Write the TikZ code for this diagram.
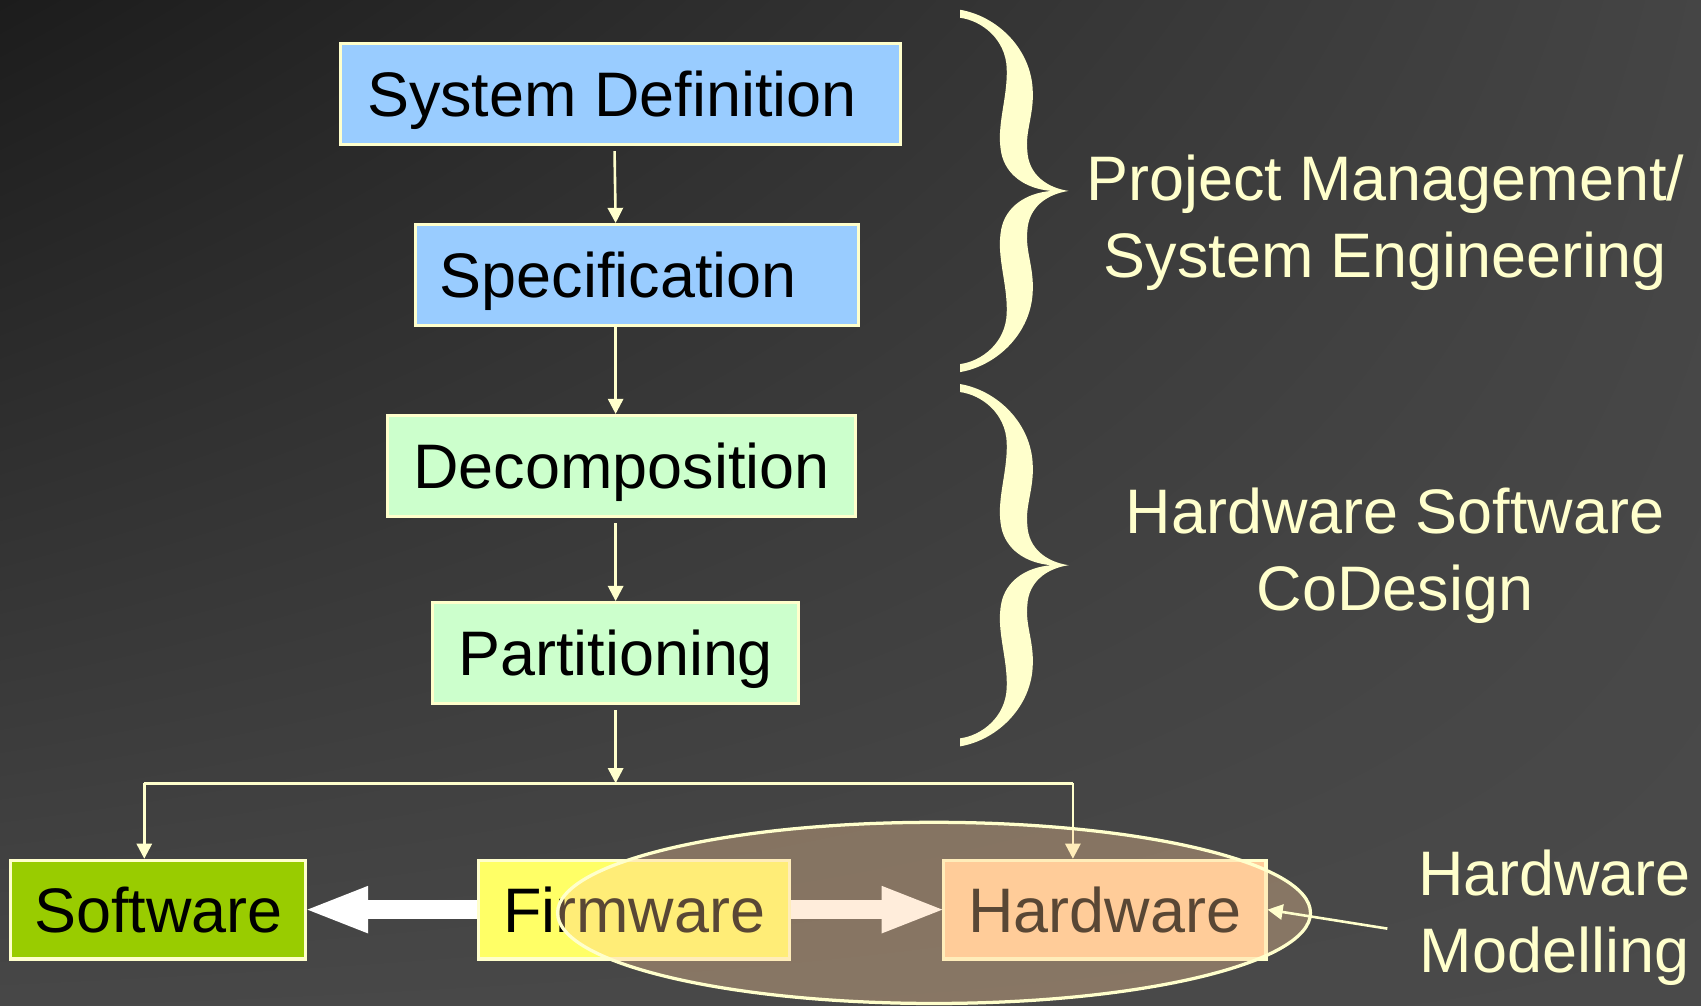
\documentclass[tikz,border=0pt]{standalone}
\usepackage{fontspec}
\setmainfont{Liberation Sans}
\usetikzlibrary{shapes.geometric,arrows.meta,calc,positioning,shadings}
\definecolor{chalk}{HTML}{FFFFCC}
\definecolor{skyblue}{HTML}{99CCFF}
\definecolor{mint}{HTML}{CCFFCC}
\definecolor{swgreen}{HTML}{99CC00}
\definecolor{fwyellow}{HTML}{FFFF66}
\definecolor{peach}{HTML}{FFCC99}
% curly brace outline, 100 wide and 334 high, tip to the right
\newcommand{\bracepath}{(0,-2) .. controls (35,4) and (66,35) .. (67,73) .. controls (68,95) and (60,110) .. (62,128) .. controls (63,150) and (80,162) .. (100,165) .. controls (80,168) and (63,180) .. (62,202) .. controls (60,220) and (68,235) .. (67,257) .. controls (66,295) and (35,326) .. (0,332) -- (0,324.6) .. controls (20,322) and (42,305) .. (43,278) .. controls (44,250) and (33,225) .. (38,200) .. controls (42,180) and (60,167) .. (84,165) .. controls (60,163) and (42,150) .. (38,130) .. controls (33,105) and (44,80) .. (43,52) .. controls (42,25) and (20,8) .. (0,5.4) -- cycle}

\begin{document}
\begin{tikzpicture}[x=0.5pt,y=-0.5pt,
  every node/.style={font=\fontsize{29pt}{35.5pt}\selectfont},
  box/.style={draw=chalk,line width=1.4pt,inner sep=0pt,text=black,text depth=0pt,minimum height=46.5pt},
  lbl/.style={text=chalk,align=center,inner sep=0pt},
  link/.style={draw=chalk,line width=1.2pt},
  conn/.style={link,-{Triangle[length=7pt,width=7pt]}},
  fat/.style={draw=white,line width=9pt,-{Triangle[length=28pt,width=22pt,line width=0pt]}}]
\useasboundingbox (0,0) rectangle (1568,927);
\shade[upper left=black!89,upper right=black!73,lower left=black!72,lower right=black!71] (0,0) rectangle (1568,927);
\node [box,fill=skyblue,minimum width=258pt] (sysdef) at (572,86.5) {System Definition\hspace*{8pt}};
\node [box,fill=skyblue,minimum width=204pt] (spec) at (587,253.5) {Specification\hspace*{17pt}};
\node [box,fill=mint,minimum width=216pt] (decomp) at (573,429.5) {Decomposition};
\node [box,fill=mint,minimum width=168.5pt] (part) at (567.5,602) {Partitioning};
\node [box,fill=swgreen,minimum width=136pt,minimum height=45.5pt] (sw) at (146,838.5) {Software};
\node [box,fill=fwyellow,minimum width=143.5pt,minimum height=45.5pt] (fw) at (584.5,838.5) {Firmware};
\node [box,fill=peach,minimum width=148.5pt,minimum height=45.5pt] (hw) at (1018.5,838.5) {Hardware};
\coordinate (bus) at (567.5,722);
\coordinate (busL) at (133,722);
\coordinate (busR) at (989,722);
\draw [conn] ($(sysdef.south -| part.north)+(-1,5)$) -- (spec.north -| part.north);
\draw [conn] (spec.south -| part.north) -- (decomp.north -| part.north);
\draw [conn] ($(decomp.south -| part.north)+(0,5)$) -- (part.north);
\draw [conn] ($(part.south)+(0,5)$) -- (bus);
\draw [link] (busL) -- (busR);
\draw [conn] (busL) -- (busL |- sw.north);
\draw [conn] (busR) -- (busR |- hw.north);
\draw [fat] (fw.west) -- (sw.east);
\draw [fat] (fw.east) -- (hw.west);
\node [ellipse,draw=chalk,line width=1.5pt,fill=peach,fill opacity=0.35,minimum width=347pt,minimum height=83.5pt,inner sep=0pt] (hwzone) at (861,841.5) {};
\fill [chalk,shift={(885,11)}] \bracepath;
\fill [chalk,shift={(885,356)}] \bracepath;
\node [lbl] (pm) at (1277,205) {Project Management/\\System Engineering};
\node [lbl] (codesign) at (1286,512) {Hardware Software\\CoDesign};
\node [lbl] (hwmod) at (1433,846) {Hardware\\Modelling};
\draw [conn] ($(hwmod.west)+(-28,10)$) -- (hw.east);
\end{tikzpicture}
\end{document}
